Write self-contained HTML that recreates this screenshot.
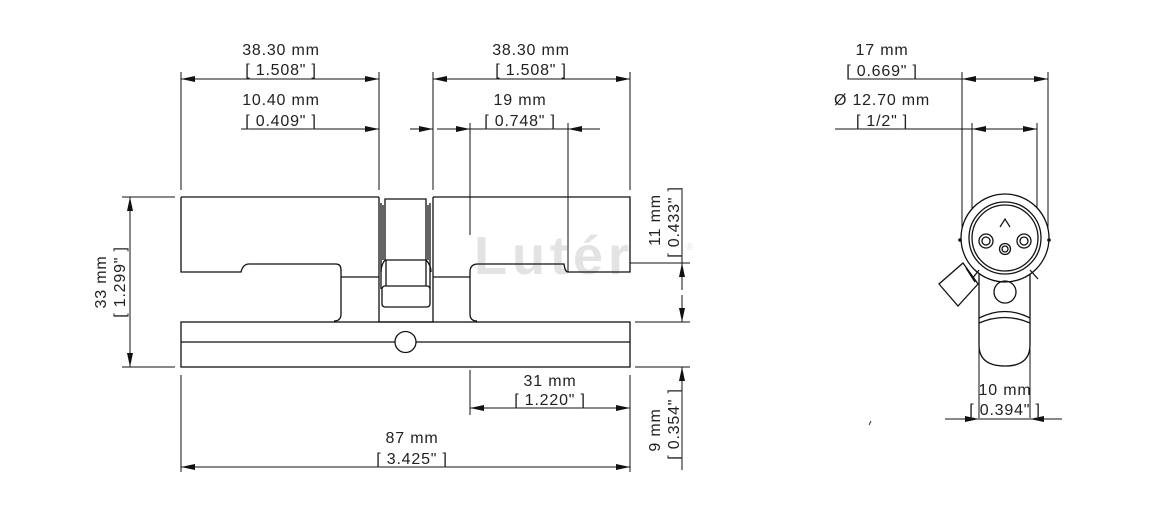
<!DOCTYPE html>
<html><head><meta charset="utf-8"><style>
html,body{margin:0;padding:0;background:#fff;}
svg{display:block;}
text{font-family:"Liberation Sans",sans-serif;font-size:16px;letter-spacing:0.8px;fill:#222;}
</style></head><body>
<svg width="1173" height="515" viewBox="0 0 1173 515" xmlns="http://www.w3.org/2000/svg">
<defs>
<marker id="a" viewBox="0 0 14 6" refX="14" refY="3" markerWidth="14" markerHeight="6" orient="auto-start-reverse" markerUnits="userSpaceOnUse"><path d="M0,0 L14,3 L0,6 z" fill="#111"/></marker>
</defs>
<text x="474" y="274" style="font-size:54px;font-weight:bold;fill:#e3e3e3;letter-spacing:5px">Lutér</text>
<text x="686" y="250" style="font-size:10px;fill:#e3e3e3">®</text>
<g fill="none" stroke="#111" stroke-width="1.3">
<path d="M181,197 H379 M181,197 V272 H241 Q243,264 249,264 H336 Q341,264 341,270 V314 Q341,321 334,321"/>
<path d="M433,197 H630 V272 H568 Q565,272 564,264 H478 Q470,264 470,272 V314 Q470,321 477,321"/>
<path d="M341,277 H379 M433,277 H470"/>
<rect x="181" y="322" width="449" height="45"/>
<line x1="181" y1="342" x2="630" y2="342"/>
<path d="M379,197 V322 H433 V197"/>
<path d="M385,199 H426 V260 H385 Z"/>
<path d="M381,203 V289 M430,203 V289 M383,205 V260 M428,205 V260"/>
<path d="M385,260 Q381,265 381,272 M426,260 Q431,265 431,272"/>
<rect x="382" y="286" width="48" height="21" rx="3"/>
<path d="M386,260 V286 M426,260 V286"/>
</g>
<circle cx="405.5" cy="342" r="10.5" fill="#fff" stroke="#111" stroke-width="1.3"/>
<g fill="none" stroke="#111" stroke-width="1">
<line x1="181" y1="72" x2="181" y2="190"/>
<line x1="379" y1="72" x2="379" y2="190"/>
<line x1="433" y1="72" x2="433" y2="190"/>
<line x1="630" y1="72" x2="630" y2="190"/>
<line x1="470" y1="123" x2="470" y2="235"/>
<line x1="568" y1="123" x2="568" y2="272"/>
<line x1="181" y1="79" x2="379" y2="79" marker-start="url(#a)" marker-end="url(#a)"/>
<line x1="433" y1="79" x2="630" y2="79" marker-start="url(#a)" marker-end="url(#a)"/>
<line x1="241" y1="129" x2="379" y2="129" marker-end="url(#a)"/>
<line x1="410" y1="129" x2="433" y2="129" marker-end="url(#a)"/>
<line x1="437" y1="129" x2="470" y2="129" marker-end="url(#a)"/>
<line x1="470" y1="129" x2="568" y2="129"/>
<line x1="600" y1="129" x2="568" y2="129" marker-end="url(#a)"/>
<line x1="122" y1="197" x2="175" y2="197"/>
<line x1="122" y1="367" x2="175" y2="367"/>
<line x1="130" y1="197" x2="130" y2="367" marker-start="url(#a)" marker-end="url(#a)"/>
<line x1="682" y1="188" x2="682" y2="263"/>
<line x1="682" y1="290" x2="682" y2="263" marker-end="url(#a)"/>
<line x1="682" y1="295" x2="682" y2="322" marker-end="url(#a)"/>
<line x1="682" y1="395" x2="682" y2="367" marker-end="url(#a)"/>
<line x1="682" y1="395" x2="682" y2="470"/>
<line x1="630" y1="263" x2="690" y2="263"/>
<line x1="635" y1="322" x2="690" y2="322"/>
<line x1="635" y1="367" x2="690" y2="367"/>
<line x1="470" y1="370" x2="470" y2="415"/>
<line x1="630" y1="375" x2="630" y2="472"/>
<line x1="470" y1="408" x2="630" y2="408" marker-start="url(#a)" marker-end="url(#a)"/>
<line x1="181" y1="375" x2="181" y2="472"/>
<line x1="181" y1="467" x2="630" y2="467" marker-start="url(#a)" marker-end="url(#a)"/>
<line x1="962" y1="72" x2="962" y2="238"/>
<line x1="1048" y1="72" x2="1048" y2="238"/>
<line x1="848" y1="79" x2="962" y2="79"/>
<line x1="962" y1="79" x2="1048" y2="79" marker-start="url(#a)" marker-end="url(#a)"/>
<line x1="972" y1="123" x2="972" y2="215"/>
<line x1="1037" y1="123" x2="1037" y2="215"/>
<line x1="835" y1="129" x2="972" y2="129"/>
<line x1="972" y1="129" x2="1037" y2="129" marker-start="url(#a)" marker-end="url(#a)"/>
<line x1="979" y1="330" x2="979" y2="418"/>
<line x1="1030" y1="330" x2="1030" y2="418"/>
<line x1="945" y1="419" x2="979" y2="419" marker-end="url(#a)"/>
<line x1="979" y1="419" x2="1030" y2="419"/>
<line x1="1062" y1="419" x2="1030" y2="419" marker-end="url(#a)"/>
</g>
<g fill="none" stroke="#111" stroke-width="1.3">
<path d="M979,270 V345 Q979,366 1005,366 Q1030,366 1030,345 V270"/>
<circle cx="1005" cy="238" r="44" fill="#fff"/>
<circle cx="1005" cy="238" r="36"/>
<circle cx="1005" cy="238" r="33"/>
<path d="M979,270 L972,279 M1030,270 L1038,279"/>
<path d="M979,318 Q1005,305 1030,318 M979,323 Q1005,312 1030,323"/>
<circle cx="1005" cy="292" r="11"/>
<circle cx="986" cy="241" r="7"/><circle cx="986" cy="241" r="4"/>
<circle cx="1024" cy="241" r="7"/><circle cx="1024" cy="241" r="4"/>
<circle cx="1005" cy="249" r="5.5"/><circle cx="1005" cy="249" r="3"/>
<path d="M1000,227 L1005,219 L1010,227" stroke-width="1.2"/>
<path d="M963,263 L978,284 L958,306 L939,284 Z" fill="#fff"/>
<path d="M966,268 L975,282"/>
</g>
<circle cx="960" cy="240" r="1.8" fill="#111"/>
<circle cx="1049" cy="240" r="1.8" fill="#111"/>
<path d="M869,425 l2,-4" stroke="#333" stroke-width="1"/>
<g text-anchor="middle">
<text x="281" y="55">38.30 mm</text>
<text x="281" y="75">[ 1.508" ]</text>
<text x="531" y="55">38.30 mm</text>
<text x="531" y="75">[ 1.508" ]</text>
<text x="281" y="105">10.40 mm</text>
<text x="281" y="126">[ 0.409" ]</text>
<text x="520" y="105">19 mm</text>
<text x="520" y="126">[ 0.748" ]</text>
<text x="550" y="386">31 mm</text>
<text x="550" y="405">[ 1.220" ]</text>
<text x="412" y="443">87 mm</text>
<text x="412" y="464">[ 3.425" ]</text>
<text x="882" y="55">17 mm</text>
<text x="882" y="76">[ 0.669" ]</text>
<text x="882" y="105">Ø 12.70 mm</text>
<text x="882" y="126">[ 1/2" ]</text>
<text x="1005" y="395">10 mm</text>
<text x="1005" y="415">[ 0.394" ]</text>
<text transform="translate(106,282) rotate(-90)">33 mm</text>
<text transform="translate(125,282) rotate(-90)">[ 1.299" ]</text>
<text transform="translate(660,220) rotate(-90)">11 mm</text>
<text transform="translate(679,222) rotate(-90)">[ 0.433" ]</text>
<text transform="translate(660,430) rotate(-90)">9 mm</text>
<text transform="translate(679,424) rotate(-90)">[ 0.354" ]</text>
</g>
</svg>
</body></html>
